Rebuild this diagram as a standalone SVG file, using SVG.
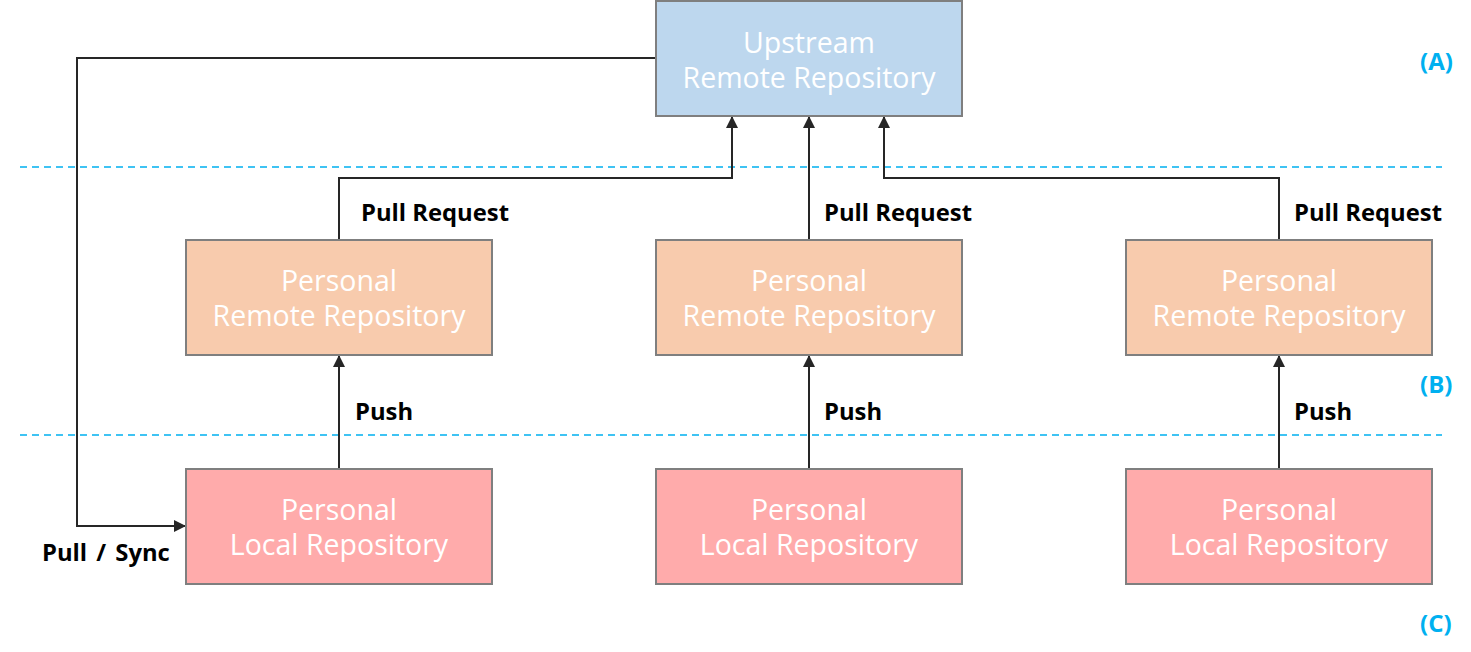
<svg xmlns="http://www.w3.org/2000/svg" width="1471" height="652" viewBox="0 0 1471 652">
<style>
.box{stroke:#7f7f7f;stroke-width:2}
.up{fill:#bdd7ee}
.rem{fill:#f8cbad}
.loc{fill:#ffabab}
.bt{font-family:"Open Sans","Noto Sans",sans-serif;font-size:28.5px;fill:#ffffff;text-anchor:middle}
.lbl{font-family:"Open Sans","Noto Sans",sans-serif;font-size:23.8px;font-weight:bold;fill:#000000}
.sec{font-family:"Open Sans","Noto Sans",sans-serif;font-size:24px;font-weight:bold;fill:#00b0f0}
.dash{stroke:#00b0f0;stroke-width:1.5;stroke-dasharray:7,5;fill:none}
.con{stroke:#262626;stroke-width:2;fill:none}
</style>
<defs>
<marker id="ah" markerWidth="12" markerHeight="12" refX="11" refY="6" orient="auto" markerUnits="userSpaceOnUse"><path d="M0,0 L12,6 L0,12 z" fill="#262626"/></marker>
</defs>
<g id="separators">
<line class="dash" x1="20" y1="167" x2="1442" y2="167"/>
<line class="dash" x1="20" y1="435" x2="1442" y2="435"/>
<text class="sec" x="1420" y="70">(A)</text>
<text class="sec" x="1420" y="393">(B)</text>
<text class="sec" x="1420" y="632">(C)</text>
</g>
<g id="connectors">
<path class="con" d="M339,240 V178 H732 V117" marker-end="url(#ah)"/>
<path class="con" d="M809,240 V117" marker-end="url(#ah)"/>
<path class="con" d="M1279,240 V178 H884 V117" marker-end="url(#ah)"/>
<path class="con" d="M339,469 V356" marker-end="url(#ah)"/>
<path class="con" d="M809,469 V356" marker-end="url(#ah)"/>
<path class="con" d="M1279,469 V356" marker-end="url(#ah)"/>
<path class="con" d="M656,58 H77 V526 H185" marker-end="url(#ah)"/>
<text class="lbl" x="361" y="221">Pull Request</text>
<text class="lbl" x="824" y="221">Pull Request</text>
<text class="lbl" x="1294" y="221">Pull Request</text>
<text class="lbl" x="355" y="420">Push</text>
<text class="lbl" x="824" y="420">Push</text>
<text class="lbl" x="1294" y="420">Push</text>
<text class="lbl" x="42" y="561" word-spacing="3">Pull / Sync</text>
</g>
<g id="upstream">
<rect class="box up" x="656" y="1" width="306" height="115"/>
<text class="bt" x="809" y="53">Upstream</text>
<text class="bt" x="809" y="88">Remote Repository</text>
</g>
<g id="remote1">
<rect class="box rem" x="186" y="240" width="306" height="115"/>
<text class="bt" x="339" y="291">Personal</text>
<text class="bt" x="339" y="326">Remote Repository</text>
</g>
<g id="remote2">
<rect class="box rem" x="656" y="240" width="306" height="115"/>
<text class="bt" x="809" y="291">Personal</text>
<text class="bt" x="809" y="326">Remote Repository</text>
</g>
<g id="remote3">
<rect class="box rem" x="1126" y="240" width="306" height="115"/>
<text class="bt" x="1279" y="291">Personal</text>
<text class="bt" x="1279" y="326">Remote Repository</text>
</g>
<g id="local1">
<rect class="box loc" x="186" y="469" width="306" height="115"/>
<text class="bt" x="339" y="520">Personal</text>
<text class="bt" x="339" y="555">Local Repository</text>
</g>
<g id="local2">
<rect class="box loc" x="656" y="469" width="306" height="115"/>
<text class="bt" x="809" y="520">Personal</text>
<text class="bt" x="809" y="555">Local Repository</text>
</g>
<g id="local3">
<rect class="box loc" x="1126" y="469" width="306" height="115"/>
<text class="bt" x="1279" y="520">Personal</text>
<text class="bt" x="1279" y="555">Local Repository</text>
</g>
</svg>
